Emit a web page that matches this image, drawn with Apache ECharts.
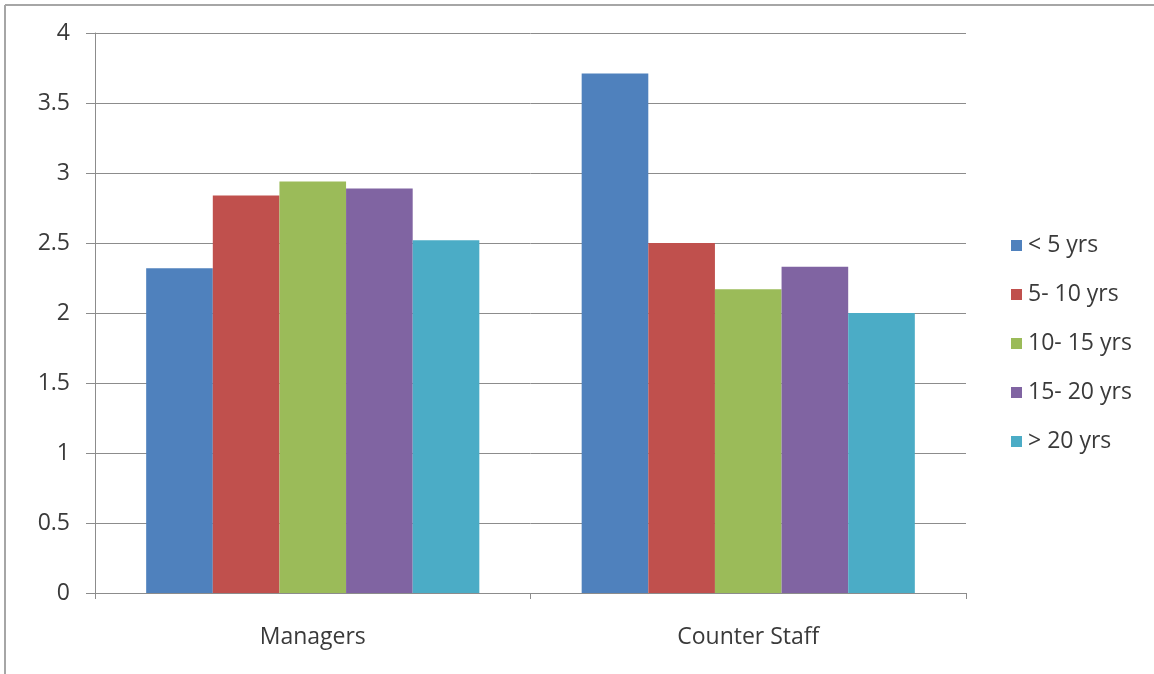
<!DOCTYPE html>
<html>
<head>
<meta charset="utf-8">
<script src="https://cdn.jsdelivr.net/npm/echarts@6/dist/echarts.min.js"></script>
<style>
  html, body { margin: 0; padding: 0; background: #ffffff; }
  #chart { width: 1154px; height: 674px; }
</style>
</head>
<body>
<div id="chart"></div>
<script>
// Job groups on the x axis
const categories = ['Managers', 'Counter Staff'];

// Experience bands (one series each)
const seriesNames = ['< 5 yrs', '5- 10 yrs', '10- 15 yrs', '15- 20 yrs', '> 20 yrs'];

// Mean scores per band: [Managers, Counter Staff]
const lessThan5 = [2.32, 3.71];
const from5to10 = [2.84, 2.50];
const from10to15 = [2.94, 2.17];
const from15to20 = [2.89, 2.33];
const over20 = [2.52, 2.00];

// Value axis range
const yMin = 0;
const yMax = 4;
const yStep = 0.5;

const seriesValues = [lessThan5, from5to10, from10to15, from15to20, over20];
const colors = ['#4F81BD', '#C0504D', '#9BBB59', '#8064A2', '#4BACC6'];

const fontFamily = '"Open Sans", Lato, sans-serif';
const textColor = '#3a3a3a';
const lineColor = '#8c8c8c';

const chart = echarts.init(document.getElementById('chart'), null, { renderer: 'canvas' });

chart.setOption({
  animation: false,
  backgroundColor: '#ffffff',
  color: colors,
  grid: { left: 95, right: 188, top: 33, bottom: 81, containLabel: false },
  legend: {
    orient: 'vertical',
    left: 1006,
    top: 229,
    icon: 'rect',
    itemWidth: 11,
    itemHeight: 11,
    itemGap: 26,
    textStyle: { fontFamily, fontSize: 23, color: textColor, lineHeight: 23, padding: [0, 0, 0, 1] },
    data: seriesNames
  },
  xAxis: {
    type: 'category',
    data: categories,
    axisLine: { lineStyle: { color: lineColor, width: 1 } },
    axisTick: { show: true, length: 6, lineStyle: { color: lineColor } },
    axisLabel: { fontFamily, fontSize: 23, color: textColor, margin: 33 },
    splitLine: { show: false }
  },
  yAxis: {
    type: 'value',
    min: yMin,
    max: yMax,
    interval: yStep,
    axisLine: { show: true, lineStyle: { color: lineColor, width: 1 } },
    axisTick: { show: true, length: 9, lineStyle: { color: lineColor } },
    axisLabel: { fontFamily, fontSize: 23, color: textColor, margin: 25 },
    splitLine: { show: true, lineStyle: { color: lineColor, width: 1 } }
  },
  series: seriesNames.map((name, i) => ({
    name,
    type: 'bar',
    data: seriesValues[i],
    barGap: '0%',
    barCategoryGap: '23.5%',
    itemStyle: { color: colors[i] }
  })),
  graphic: [
    // frame edges along the top and left
    { type: 'line', shape: { x1: 5, y1: 5, x2: 1154, y2: 5 }, style: { stroke: '#a6a6a6', lineWidth: 2 } },
    { type: 'line', shape: { x1: 5, y1: 5, x2: 5, y2: 674 }, style: { stroke: '#a6a6a6', lineWidth: 2 } }
  ]
});
</script>
</body>
</html>
